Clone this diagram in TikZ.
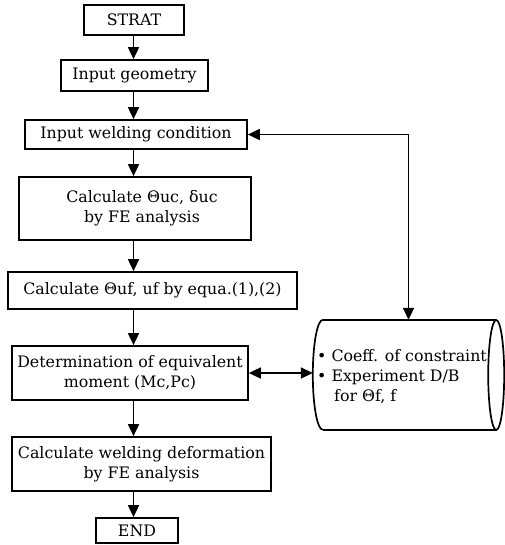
\documentclass[tikz,border=0pt]{standalone}
\usepackage{fontspec}
\setmainfont{DejaVu Serif}
\usetikzlibrary{arrows.meta}

\begin{document}
\begin{tikzpicture}[x=1pt,y=-1pt,
  box/.style={draw,line width=1.7pt,inner sep=0pt,align=center,
    font=\fontsize{15.8}{20}\selectfont},
  arr/.style={line width=1.7pt,-{Triangle[length=12pt,width=11pt]}},
  darr/.style={line width=1.7pt,
    {Triangle[length=12pt,width=11pt]}-{Triangle[length=12pt,width=11pt]}}]

  \useasboundingbox (0,0) rectangle (504,545);

  % Main column of steps (centres and sizes taken off the figure, in px)
  \node[box,minimum width=100pt,minimum height=30pt] (start) at (134,20) {STRAT};
  \node[box,minimum width=147pt,minimum height=31pt] (geom) at (134.5,75.5)
    {Input geometry};
  \node[box,minimum width=222pt,minimum height=29pt] (weld) at (136,134.5)
    {Input welding condition};
  % text sits a little right of the box centre here
  \node[box,minimum width=232pt,minimum height=63pt] (calcuc) at (135,208.5)
    {\hspace*{14pt}Calculate Θuc, δuc\\\hspace*{14pt}by FE analysis};
  \node[box,minimum width=289pt,minimum height=37pt] (calcuf) at (152.5,290.5)
    {Calculate Θuf, uf by equa.(1),(2)};
  \node[box,minimum width=236pt,minimum height=54pt] (equiv) at (130,373)
    {Determination of equivalent\\moment (Mc,Pc)};
  \node[box,minimum width=259pt,minimum height=54pt] (deform) at (141.5,464)
    {Calculate welding deformation\\by FE analysis};
  \node[box,minimum width=82pt,minimum height=25pt] (finish) at (137,530.5) {END};

  % Data base on the right: a lying cylinder, drawn round a blank node
  \node[inner sep=0pt,minimum width=191pt,minimum height=110pt] (db) at (408.5,375) {};
  \draw[line width=1.7pt] ([xshift=10pt]db.north west) -- ([xshift=-8pt]db.north east);
  \draw[line width=1.7pt] ([xshift=10pt]db.south west) -- ([xshift=-8pt]db.south east);
  \draw[line width=1.7pt] ([xshift=10pt]db.north west)
    arc[start angle=90,end angle=270,x radius=10pt,y radius=55pt];
  \draw[line width=1.7pt] ([xshift=-8pt]db.east) ellipse (8pt and 55pt);
  \node[anchor=west,align=left,inner sep=0pt,
    font=\fontsize{15.8}{20}\selectfont] (dbtext) at (317,377)
    {• Coeff. of constraint\\• Experiment D/B\\\hspace*{17pt}for Θf, f};

  % Flow arrows down the column
  \coordinate (col) at (133.5,0);
  \foreach \a/\b in {start/geom,geom/weld,weld/calcuc,calcuc/calcuf,
                     calcuf/equiv,equiv/deform,deform/finish}{
    \draw[arr] (\a.south -| col) -- (\b.north -| col);
  }

  % Links to the data base
  \draw[darr] (weld.east) -| (db.north);
  \draw[darr] (equiv.east) -- (equiv.east -| db.west);

\end{tikzpicture}
\end{document}
